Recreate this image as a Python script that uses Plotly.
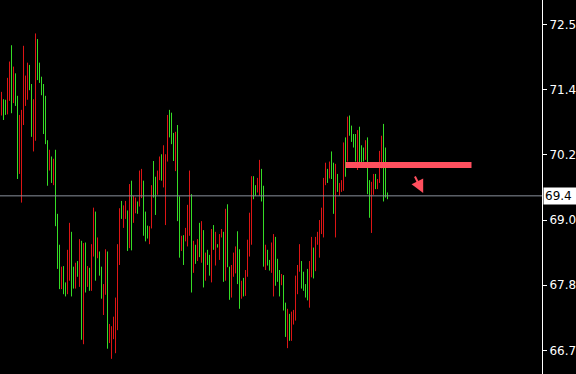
import plotly.graph_objects as go

# ---- data ----
highs = [
    71.32, 71.19, 71.18, 71.57, 71.86, 72.15, 71.77, 71.65, 71.25, 70.91, 71.00, 72.14, 71.61, 71.84, 71.80, 71.46,
    71.19, 72.36, 72.26, 71.84, 71.59, 71.46, 71.25, 70.46, 70.29, 70.17, 70.13, 70.29, 69.15, 68.60, 68.21, 68.22,
    67.93, 68.51, 68.99, 68.83, 68.21, 68.28, 68.31, 68.70, 68.67, 68.63, 68.64, 68.22, 68.19, 68.61, 69.26, 69.19,
    68.73, 68.48, 68.21, 67.90, 68.52, 68.48, 67.19, 67.15, 67.32, 67.66, 68.61, 69.25, 69.38, 69.30, 69.38, 69.21,
    69.68,
    69.74, 69.47, 69.44, 69.37, 69.92, 69.95, 69.74, 69.19, 68.94, 68.93, 69.66, 70.09, 69.81, 69.92, 70.17, 70.21,
    70.37, 70.21, 70.91, 71.00, 70.95, 70.59, 70.61, 70.73, 69.46, 68.76, 68.77, 68.90, 69.31, 69.92, 69.50, 68.67,
    68.60, 68.70, 68.99, 69.02, 68.86, 68.46, 68.51, 68.42, 68.88, 68.95, 68.83, 68.61, 68.79, 68.88, 68.83, 69.24,
    69.32, 68.21, 68.24, 68.46, 68.57, 68.84, 68.52, 67.96, 68.01, 68.15, 68.69, 69.17, 69.82, 69.82, 69.66, 69.79,
    70.11,
    69.95, 69.65, 68.60, 68.51, 68.33, 68.64, 68.79, 68.74, 68.35, 68.15, 68.08, 68.06, 67.57, 67.46, 67.37, 67.41,
    67.44, 68.05, 68.24, 68.61, 68.31, 68.12, 67.90, 68.17, 68.31, 68.74, 68.55, 68.74, 68.83, 69.04, 69.26, 69.79,
    70.06, 69.95, 70.08, 70.26, 70.06, 70.04, 69.86, 69.70, 69.75, 70.42, 70.51, 70.88, 70.90, 70.72, 70.57, 70.57,
    70.64, 70.70, 70.37, 70.33, 70.46, 70.51, 69.75, 69.72, 69.86, 69.86, 69.77, 70.27, 70.54, 70.75, 70.33, 69.53,
]
lows = [
    70.90, 70.82, 70.91, 70.92, 71.16, 70.94, 71.12, 71.07, 69.77, 69.86, 69.35, 70.73, 71.07, 71.18, 71.35, 70.52,
    70.26, 70.45, 71.53, 71.48, 71.26, 70.57, 70.39, 69.65, 69.92, 69.70, 69.66, 68.93, 68.17, 67.81, 67.81, 67.72,
    67.68, 67.72, 67.96, 67.68, 67.82, 67.82, 68.03, 67.85, 66.91, 66.83, 67.75, 67.85, 67.78, 67.78, 68.39, 67.96,
    68.36, 68.05, 67.64, 67.35, 67.71, 66.75, 66.85, 66.57, 66.92, 66.67, 67.08, 68.24, 69.06, 68.90, 69.06, 68.49,
    68.54,
    68.50, 68.99, 69.16, 69.15, 69.28, 69.43, 68.76, 68.66, 68.71, 68.61, 68.89, 69.44, 69.13, 69.49, 69.75, 69.74,
    69.62, 68.95, 70.08, 70.51, 70.39, 70.09, 69.91, 69.02, 68.37, 68.49, 68.24, 68.66, 68.57, 68.76, 67.75, 68.10,
    68.26, 68.31, 68.38, 68.28, 67.84, 67.96, 68.24, 68.05, 67.93, 68.51, 68.23, 68.55, 68.33, 68.73, 67.94, 67.96,
    68.20, 67.62, 67.66, 68.03, 68.09, 67.90, 67.46, 67.64, 67.68, 67.69, 68.03, 68.39, 68.60, 69.41, 69.47, 69.53,
    69.47,
    69.37, 68.21, 68.15, 68.23, 68.14, 68.10, 67.68, 67.87, 67.94, 67.68, 67.88, 67.43, 66.96, 66.76, 66.89, 66.89,
    67.18, 67.25, 67.72, 68.12, 67.82, 67.78, 67.66, 67.61, 67.48, 68.02, 68.00, 68.13, 68.60, 68.37, 68.79, 68.73,
    69.66, 69.70, 69.78, 69.77, 69.15, 68.73, 69.54, 69.47, 69.54, 69.56, 69.81, 70.08, 70.54, 70.43, 70.33, 70.08,
    69.93, 70.06, 70.07, 70.08, 70.11, 69.50, 69.08, 68.81, 69.49, 69.59, 69.59, 69.70, 69.96, 69.37, 69.44, 69.41,
]
directions = list(
    "duudd" "uduud" "ddddu" "udduu" "uuuud" "uduuu" "duudd" "uudud" "ududu" "ddudu" "uddud" "ddddd" "uddud"
    "uddud" "duuud" "duudd" "udddu" "uuduu" "duddd" "ududu" "duduu" "dudud" "duduu" "ddduu" "duddd" "duudd"
    "uuduu" "dduuu" "duudu" "ddddd" "uuuud" "duddd" "dddud" "uudud" "ddudu" "uuudu" "uuduu" "ddudd" "duuu"
)
last_price = 69.47
last_label = "69.4"
level_price = 70.02
level_start, level_end = 172, 235
arrow_from = (206.35, 69.84)
arrow_to = (210.85, 69.52)
tick_vals = [66.72, 67.88, 69.04, 70.20, 71.36, 72.52]
tick_text = ["66.7", "67.8", "69.0", "70.2", "71.4", "72.5"]

n = len(highs)
assert len(lows) == n and len(directions) == n

UP = "#35dc25"
DOWN = "#dc1515"
LEVEL = "#ff4f5e"

def segs(kind):
    xs, ys = [], []
    for i in range(n):
        if directions[i] == kind:
            xs += [i, i, None]
            ys += [lows[i], highs[i], None]
    return xs, ys

fig = go.Figure()
for kind, col in (("u", UP), ("d", DOWN)):
    xs, ys = segs(kind)
    fig.add_trace(go.Scatter(x=xs, y=ys, mode="lines", line=dict(color=col, width=1),
                             hoverinfo="skip", showlegend=False))

fig.add_shape(type="line", xref="paper", x0=0, x1=1, yref="y", y0=last_price, y1=last_price,
              line=dict(color="#8a909c", width=1), layer="above")
fig.add_shape(type="line", xref="x", x0=level_start, x1=level_end, yref="y", y0=level_price, y1=level_price,
              line=dict(color=LEVEL, width=6), layer="above")

fig.add_annotation(x=arrow_to[0], y=arrow_to[1], ax=arrow_from[0], ay=arrow_from[1],
                   xref="x", yref="y", axref="x", ayref="y", text="", showarrow=True,
                   arrowhead=2, arrowsize=1.3, arrowwidth=2, arrowcolor=LEVEL)
fig.add_annotation(x=1, xref="paper", xanchor="left", xshift=1, y=last_price, yref="y",
                   text=last_label, showarrow=False, bgcolor="#ffffff",
                   font=dict(color="#000000", size=12, family="DejaVu Sans"),
                   width=31, height=14, borderpad=1, align="left")

fig.update_layout(
    width=576, height=374,
    margin=dict(l=0, r=34, t=0, b=0, pad=0),
    paper_bgcolor="#000000", plot_bgcolor="#000000",
    showlegend=False, hovermode=False,
    xaxis=dict(visible=False, range=[-0.75, 270.25], fixedrange=True),
    yaxis=dict(side="right", range=[66.30, 72.955], showgrid=False, zeroline=False,
               showline=True, linecolor="#ffffff", linewidth=1,
               ticks="outside", ticklen=4, tickcolor="#ffffff", tickwidth=1,
               tickvals=tick_vals, ticktext=tick_text,
               tickfont=dict(color="#ffffff", size=12, family="DejaVu Sans"),
               fixedrange=True),
)

fig.write_html("out.html", config={"displayModeBar": False})
